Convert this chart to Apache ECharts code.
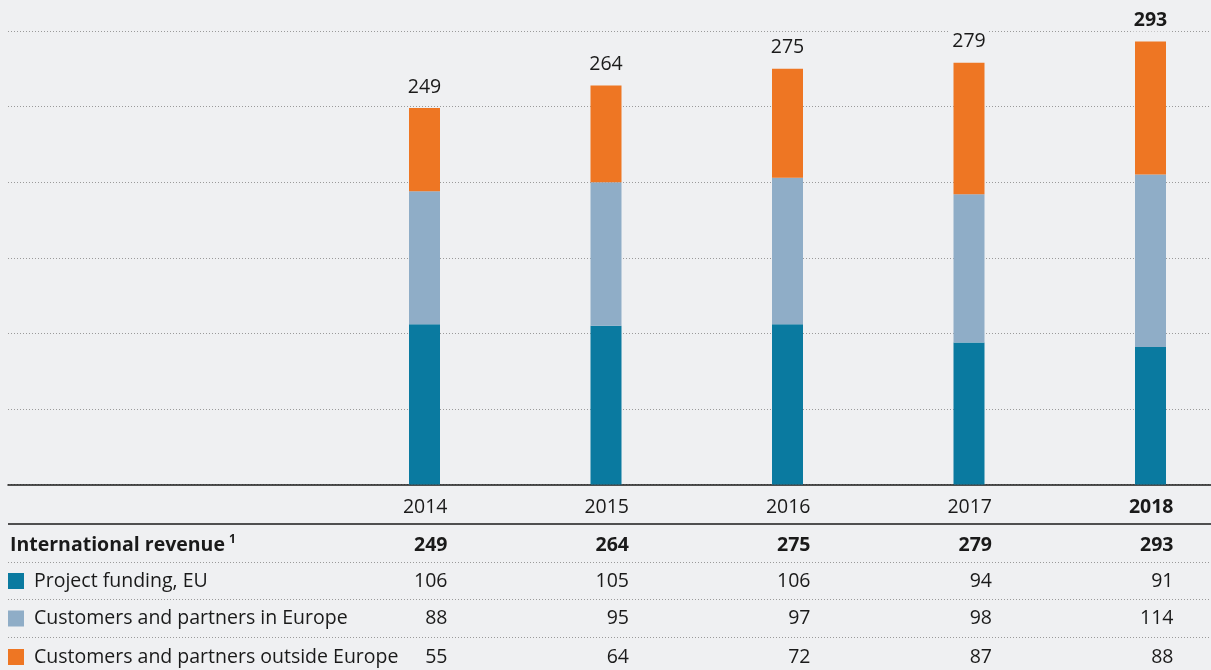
<!DOCTYPE html>
<html>
<head>
<meta charset="utf-8">
<script src="https://cdn.jsdelivr.net/npm/echarts@6/dist/echarts.min.js"></script>
<style>
html,body{margin:0;padding:0;background:#eff0f2;}
#c{width:1211px;height:670px;}
</style>
</head>
<body>
<div id="c"></div>
<script>
const years = ['2014', '2015', '2016', '2017', '2018'];
const euFunding = [106, 105, 106, 94, 91];
const europe = [88, 95, 97, 98, 114];
const outside = [55, 64, 72, 87, 88];
const totals = [249, 264, 275, 279, 293];
const rowLabels = ['Project funding, EU', 'Customers and partners in Europe', 'Customers and partners outside Europe'];
const totalLabel = 'International revenue';
const footnote = '1';

const BG = '#eff0f2';
const COLORS = ['#0a7aa0', '#8fadc7', '#ee7623'];
const FONT = '"Open Sans", "Noto Sans", sans-serif';
const TXT = '#1a1a1a';
const FS = 19.5;

const chart = echarts.init(document.getElementById('c'));
const gridTop = 31, gridBottom = 185.5;

const option = {
  backgroundColor: BG,
  animation: false,
  grid: [
    {left: 8, right: 0, top: gridTop, bottom: gridBottom, outerBoundsMode: 'none', containLabel: false},
    {left: 333.75, width: 907.5, top: gridTop, bottom: gridBottom, outerBoundsMode: 'none', containLabel: false}
  ],
  xAxis: [
    {type: 'value', gridIndex: 0, min: 0, max: 1,
     axisLine: {show: true, onZero: false, lineStyle: {color: TXT, width: 1.5}},
     axisTick: {show: false}, axisLabel: {show: false}, splitLine: {show: false}},
    {type: 'category', gridIndex: 1, data: years,
     axisLine: {show: false}, axisTick: {show: false}, axisLabel: {show: false}, splitLine: {show: false}}
  ],
  yAxis: [
    {type: 'value', gridIndex: 0, min: 0, max: 300, interval: 50,
     axisLine: {show: false}, axisTick: {show: false}, axisLabel: {show: false},
     splitLine: {show: true, lineStyle: {color: '#9a9a9a', width: 1, type: [1, 2]}}},
    {type: 'value', gridIndex: 1, min: 0, max: 300, interval: 50,
     axisLine: {show: false}, axisTick: {show: false}, axisLabel: {show: false}, splitLine: {show: false}}
  ],
  series: [
    {name: rowLabels[0], type: 'bar', xAxisIndex: 1, yAxisIndex: 1, stack: 's', barWidth: 31,
     itemStyle: {color: COLORS[0]}, data: euFunding},
    {name: rowLabels[1], type: 'bar', xAxisIndex: 1, yAxisIndex: 1, stack: 's', barWidth: 31,
     itemStyle: {color: COLORS[1]}, data: europe},
    {name: rowLabels[2], type: 'bar', xAxisIndex: 1, yAxisIndex: 1, stack: 's', barWidth: 31,
     itemStyle: {color: COLORS[2]},
     label: {show: true, position: 'top', distance: 10, fontSize: FS, fontFamily: FONT, color: TXT,
             backgroundColor: BG, padding: [1, 3],
             formatter: p => String(totals[p.dataIndex])},
     data: outside.map((v, i) => ({value: v, label: {fontWeight: i === years.length - 1 ? 'bold' : 'normal'}}))}
  ]
};
chart.setOption(option);

// Table below the chart
const xs = years.map(y => {
  const p = chart.convertToPixel({xAxisIndex: 1}, y);
  return Array.isArray(p) ? p[0] : p;
});
const colRight = xs.map(x => x + 23);
const rowY = {years: 507, total: 545, r: [581, 618.5, 657]};
const g = [];
function txt(text, x, y, opts) {
  g.push({type: 'text', silent: true, style: Object.assign({
    text: text, x: x, y: y, fill: TXT, font: FS + 'px ' + FONT,
    textAlign: 'left', textVerticalAlign: 'middle'}, opts || {})});
}
function hline(y, dotted, w, color) {
  g.push({type: 'line', silent: true, shape: {x1: 8, y1: y, x2: 1211, y2: y},
    style: {stroke: color, lineWidth: w, lineDash: dotted ? [1, 2] : null}});
}
hline(524, false, 1.5, TXT);
hline(562.5, true, 1, '#9a9a9a');
hline(599.5, true, 1, '#9a9a9a');
hline(637.5, true, 1, '#9a9a9a');

years.forEach((y, i) => {
  const last = i === years.length - 1;
  txt(y, colRight[i], rowY.years, {textAlign: 'right', font: (last ? 'bold ' : '') + FS + 'px ' + FONT});
  txt(String(totals[i]), colRight[i], rowY.total, {textAlign: 'right', font: 'bold ' + FS + 'px ' + FONT});
});
// total label + superscript
txt(totalLabel, 10, rowY.total, {font: 'bold ' + FS + 'px ' + FONT});
const ctx = document.createElement('canvas').getContext('2d');
ctx.font = 'bold ' + FS + 'px ' + FONT;
const tw = ctx.measureText(totalLabel).width;
txt(footnote, 10 + tw + 4, rowY.total - 5, {font: 'bold 12px ' + FONT});

const seriesVals = [euFunding, europe, outside];
seriesVals.forEach((arr, r) => {
  g.push({type: 'rect', silent: true, shape: {x: 8, y: rowY.r[r] - 8, width: 16, height: 16},
    style: {fill: COLORS[r]}});
  txt(rowLabels[r], 34, rowY.r[r]);
  arr.forEach((v, i) => txt(String(v), colRight[i], rowY.r[r], {textAlign: 'right'}));
});
chart.setOption({graphic: g});
</script>
</body>
</html>
